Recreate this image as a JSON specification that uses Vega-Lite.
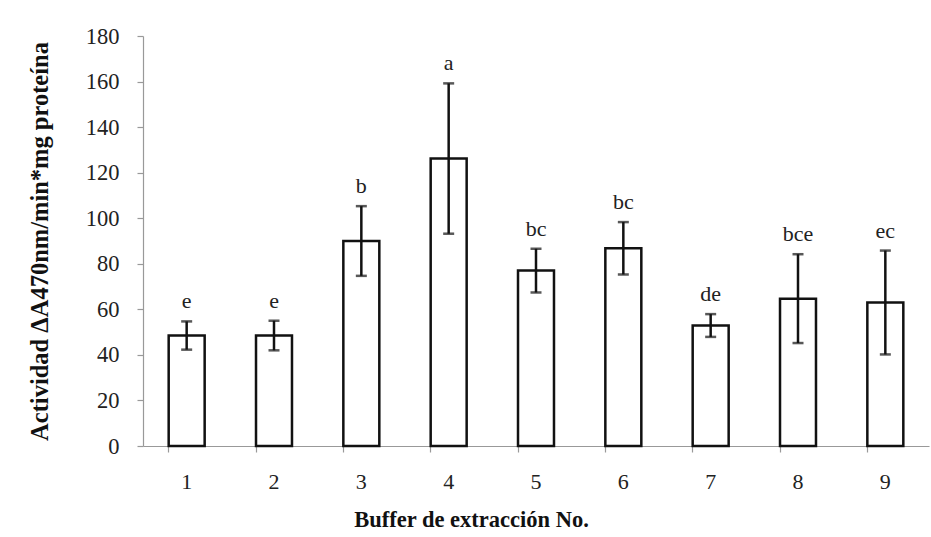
{
  "$schema": "https://vega.github.io/schema/vega-lite/v6.json",
  "autosize": {"type": "none"},
  "padding": {"left": 143, "top": 36, "right": 2, "bottom": 91},
  "width": 786,
  "height": 410,
  "background": "white",
  "config": {
    "view": {"stroke": null},
    "font": "Liberation Serif"
  },
  "data": {
    "values": [
      {"buffer": "1", "mean": 48.5, "sd": 6.2, "group": "e"},
      {"buffer": "2", "mean": 48.5, "sd": 6.5, "group": "e"},
      {"buffer": "3", "mean": 90, "sd": 15.3, "group": "b"},
      {"buffer": "4", "mean": 126.2, "sd": 33, "group": "a"},
      {"buffer": "5", "mean": 77, "sd": 9.6, "group": "bc"},
      {"buffer": "6", "mean": 86.8, "sd": 11.5, "group": "bc"},
      {"buffer": "7", "mean": 52.9, "sd": 5, "group": "de"},
      {"buffer": "8", "mean": 64.7, "sd": 19.5, "group": "bce"},
      {"buffer": "9", "mean": 63, "sd": 22.8, "group": "ec"}
    ]
  },
  "transform": [
    {"calculate": "datum.mean + datum.sd", "as": "upper"},
    {"calculate": "datum.mean - datum.sd", "as": "lower"}
  ],
  "encoding": {
    "x": {
      "field": "buffer",
      "type": "nominal",
      "sort": null,
      "scale": {"paddingInner": 0.588, "paddingOuter": 0.294},
      "axis": {
        "title": "Buffer de extracción No.",
        "titleFont": "Liberation Serif",
        "titleFontSize": 22.5,
        "titleFontWeight": "bold",
        "titleColor": "#111",
        "titleX": 328,
        "titleY": 62,
        "titleAlign": "center",
        "titleBaseline": "top",
        "labelAngle": 0,
        "labelFont": "Liberation Serif",
        "labelFontSize": 22,
        "labelColor": "#222",
        "labelPadding": 19,
        "bandPosition": 0,
        "tickSize": 6,
        "tickColor": "#999",
        "domainColor": "#999",
        "domainWidth": 1.2,
        "tickWidth": 1.2
      }
    }
  },
  "layer": [
    {
      "mark": {"type": "bar", "fill": "white", "stroke": "#111", "strokeWidth": 2.5},
      "encoding": {
        "y": {
          "field": "mean",
          "type": "quantitative",
          "scale": {"domain": [0, 180], "nice": false},
          "axis": {
            "title": "Actividad  ΔA470nm/min*mg proteína",
            "titleFont": "Liberation Serif",
            "titleFontSize": 24.5,
            "titleFontWeight": "bold",
            "titleColor": "#111",
            "titleX": -103,
            "titleBaseline": "middle",
            "values": [0, 20, 40, 60, 80, 100, 120, 140, 160, 180],
            "grid": false,
            "labelFont": "Liberation Serif",
            "labelFontSize": 22.5,
            "labelColor": "#222",
            "labelPadding": 18,
            "tickSize": 6,
            "tickColor": "#999",
            "domainColor": "#999",
            "domainWidth": 1.2,
            "tickWidth": 1.2
          }
        }
      }
    },
    {
      "mark": {"type": "rule", "stroke": "#111", "strokeWidth": 2.5},
      "encoding": {
        "y": {"field": "lower", "type": "quantitative"},
        "y2": {"field": "upper"}
      }
    },
    {
      "mark": {"type": "tick", "color": "#111", "thickness": 2.5, "size": 11, "orient": "horizontal"},
      "encoding": {"y": {"field": "upper", "type": "quantitative"}}
    },
    {
      "mark": {"type": "tick", "color": "#111", "thickness": 2.5, "size": 11, "orient": "horizontal"},
      "encoding": {"y": {"field": "lower", "type": "quantitative"}}
    },
    {
      "mark": {"type": "text", "baseline": "alphabetic", "dy": -13, "fontSize": 22, "font": "Liberation Serif", "color": "#222"},
      "encoding": {
        "y": {"field": "upper", "type": "quantitative"},
        "text": {"field": "group"}
      }
    }
  ]
}
